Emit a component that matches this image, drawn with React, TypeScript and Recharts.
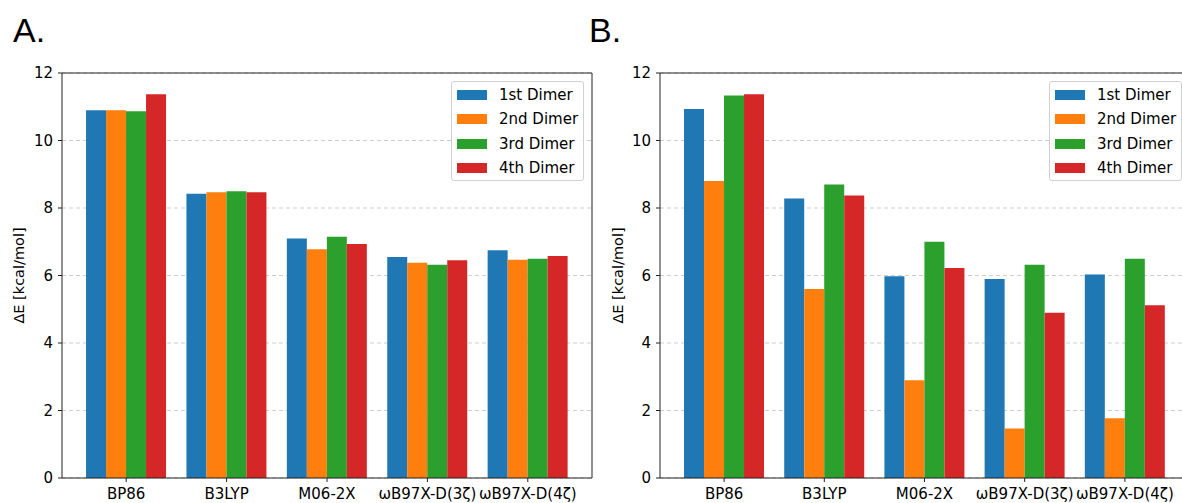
import { BarChart, Bar, XAxis, YAxis, CartesianGrid, Label } from "recharts";

const categories = ["BP86", "B3LYP", "M06-2X", "ωB97X-D(3ζ)", "ωB97X-D(4ζ)"];
const seriesNames = ["1st Dimer", "2nd Dimer", "3rd Dimer", "4th Dimer"];
const colors = ["#1f77b4", "#ff7f0e", "#2ca02c", "#d62728"];
const yTicks = [0, 2, 4, 6, 8, 10, 12];

// panel A
const a1st = [10.9, 8.42, 7.1, 6.55, 6.75];
const a2nd = [10.9, 8.47, 6.78, 6.38, 6.47];
const a3rd = [10.87, 8.5, 7.15, 6.32, 6.5];
const a4th = [11.37, 8.47, 6.93, 6.45, 6.58];

// panel B
const b1st = [10.93, 8.28, 5.98, 5.9, 6.03];
const b2nd = [8.8, 5.6, 2.9, 1.47, 1.77];
const b3rd = [11.33, 8.7, 7.0, 6.32, 6.5];
const b4th = [11.37, 8.37, 6.22, 4.9, 5.12];

const FONT = "'DejaVu Sans', sans-serif";
const AXIS = "#222";

function rows(series: number[][]) {
  return categories.map((name, i) => {
    const row: Record<string, string | number> = { name };
    seriesNames.forEach((s, j) => {
      row[s] = series[j][i];
    });
    return row;
  });
}

const dataA = rows([a1st, a2nd, a3rd, a4th]);
const dataB = rows([b1st, b2nd, b3rd, b4th]);

function YTitle({ viewBox, x }: any) {
  const cy = viewBox.y + viewBox.height / 2;
  return (
    <text
      x={x}
      y={cy}
      transform={`rotate(-90, ${x}, ${cy})`}
      textAnchor="middle"
      fontSize={14.5}
      fontFamily={FONT}
      fill="#000"
    >
      ΔE [kcal/mol]
    </text>
  );
}

function LegendBox({ left }: { left: number }) {
  return (
    <div
      style={{
        position: "absolute",
        left,
        top: 81,
        width: 131,
        height: 98,
        border: "1px solid #d0d0d0",
        borderRadius: 3,
        background: "rgba(255,255,255,0.8)",
        fontFamily: FONT,
        fontSize: 15,
        color: "#000",
      }}
    >
      {seriesNames.map((s, i) => (
        <div
          key={s}
          style={{
            position: "absolute",
            left: 5,
            top: 3 + i * 24.3,
            height: 20,
            display: "flex",
            alignItems: "center",
          }}
        >
          <span style={{ width: 30, height: 10, background: colors[i], display: "inline-block" }} />
          <span style={{ marginLeft: 12, whiteSpace: "nowrap" }}>{s}</span>
        </div>
      ))}
    </div>
  );
}

function Panel({ data, width, yAxisWidth, right, titleX }: any) {
  const tick = { fontSize: 15, fontFamily: FONT, fill: "#000" };
  return (
    <BarChart
      width={width}
      height={503}
      data={data}
      margin={{ top: 72, right, bottom: 0, left: 0 }}
      barCategoryGap="10%"
      barGap={0}
    >
      <CartesianGrid vertical={false} strokeDasharray="4 3" stroke="#cfcfcf" />
      <XAxis
        dataKey="name"
        height={25}
        padding={{ left: 14, right: 14 }}
        tick={tick}
        tickSize={4}
        tickMargin={6}
        stroke={AXIS}
        interval={0}
      />
      <XAxis
        xAxisId="top"
        dataKey="name"
        orientation="top"
        height={1}
        tick={false}
        tickLine={false}
        stroke={AXIS}
      />
      <YAxis
        domain={[0, 12]}
        ticks={yTicks}
        width={yAxisWidth}
        tick={tick}
        tickSize={4}
        tickMargin={5}
        stroke={AXIS}
      >
        <Label content={(p: any) => <YTitle {...p} x={titleX} />} />
      </YAxis>
      <YAxis
        yAxisId="right"
        orientation="right"
        width={1}
        tick={false}
        tickLine={false}
        stroke={AXIS}
        domain={[0, 12]}
      />
      {seriesNames.map((s, i) => (
        <Bar key={s} dataKey={s} fill={colors[i]} isAnimationActive={false} />
      ))}
    </BarChart>
  );
}

export default function App() {
  return (
    <div
      style={{
        position: "absolute",
        left: 0,
        top: 0,
        width: 1182,
        height: 503,
        overflow: "hidden",
        background: "#fff",
      }}
    >
      <div style={{ position: "absolute", left: 0, top: 0 }}>
        <Panel data={dataA} width={600} yAxisWidth={62} right={7} titleX={24} />
      </div>
      <div style={{ position: "absolute", left: 580, top: 0 }}>
        <Panel data={dataB} width={620} yAxisWidth={80} right={10} titleX={43} />
      </div>
      <LegendBox left={451} />
      <LegendBox left={1049} />
      <div
        style={{
          position: "absolute",
          left: 13,
          top: 13,
          fontFamily: "'Liberation Sans', Arial, sans-serif",
          fontSize: 34,
          lineHeight: "34px",
        }}
      >
        A.
      </div>
      <div
        style={{
          position: "absolute",
          left: 589,
          top: 13,
          fontFamily: "'Liberation Sans', Arial, sans-serif",
          fontSize: 34,
          lineHeight: "34px",
        }}
      >
        B.
      </div>
    </div>
  );
}
